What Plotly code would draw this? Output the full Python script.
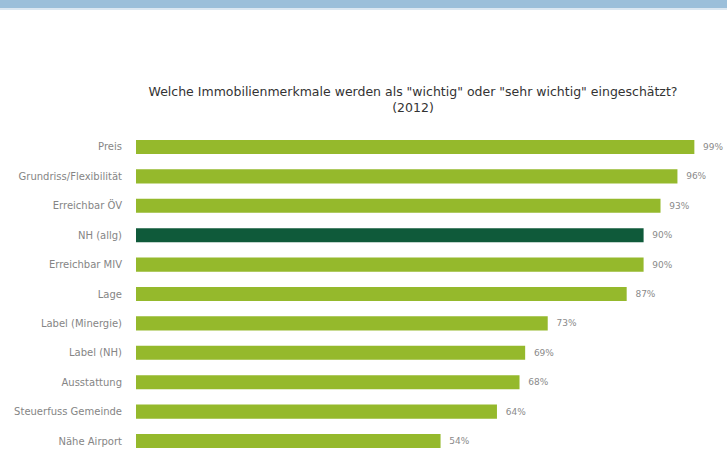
import plotly.graph_objects as go

categories = ["Preis", "Grundriss/Flexibilität", "Erreichbar ÖV", "NH (allg)", "Erreichbar MIV",
              "Lage", "Label (Minergie)", "Label (NH)", "Ausstattung", "Steuerfuss Gemeinde", "Nähe Airport"]
values = [99, 96, 93, 90, 90, 87, 73, 69, 68, 64, 54]
highlight = "NH (allg)"

LIGHT = "#95b92c"
DARK = "#0f5a3a"
colors = [DARK if c == highlight else LIGHT for c in categories]

fig = go.Figure(go.Bar(
    y=categories, x=values, orientation="h",
    marker=dict(color=colors, line=dict(width=0)),
    text=[f"{v}%" for v in values],
    texttemplate="  %{text}",
    textposition="outside",
    textfont=dict(size=9, color="#8a8a8a", family="DejaVu Sans"),
    cliponaxis=False,
))

W, H = 727, 449
t = 125
fig.update_layout(
    width=W, height=H,
    margin=dict(l=136, r=27, t=t, b=0),
    paper_bgcolor="white", plot_bgcolor="white",
    bargap=0.52,
    showlegend=False,
    title=dict(
        text="Welche Immobilienmerkmale werden als \"wichtig\" oder \"sehr wichtig\" eingeschätzt?<br>(2012)",
        x=413 / W, xanchor="center", xref="container",
        y=1 - 96 / H, yanchor="middle", yref="container",
        font=dict(size=12.5, color="#333333", family="DejaVu Sans"),
    ),
    xaxis=dict(range=[0, 100], visible=False, fixedrange=True),
    yaxis=dict(
        range=[10.272, -0.748], autorange=False,
        showgrid=False, zeroline=False, showline=False,
        ticks="", ticklabelstandoff=13,
        tickfont=dict(size=10, color="#858585", family="DejaVu Sans"),
    ),
)

ph = H - t
fig.add_shape(type="rect", xref="paper", yref="paper",
              x0=-0.5, x1=1.5,
              y0=1 + (t - 8) / ph, y1=1 + t / ph + 0.01,
              fillcolor="#9bbfda", line=dict(width=0), layer="above")
fig.add_shape(type="rect", xref="paper", yref="paper",
              x0=-0.5, x1=1.5,
              y0=1 + (t - 10) / ph, y1=1 + (t - 8) / ph,
              fillcolor="#dbe7f1", line=dict(width=0), layer="above")

fig.write_html(
    "out.html",
    config={"displayModeBar": False, "staticPlot": True},
    post_script="document.documentElement.style.overflow='hidden';document.body.style.overflow='hidden';document.body.style.margin='0';",
)
